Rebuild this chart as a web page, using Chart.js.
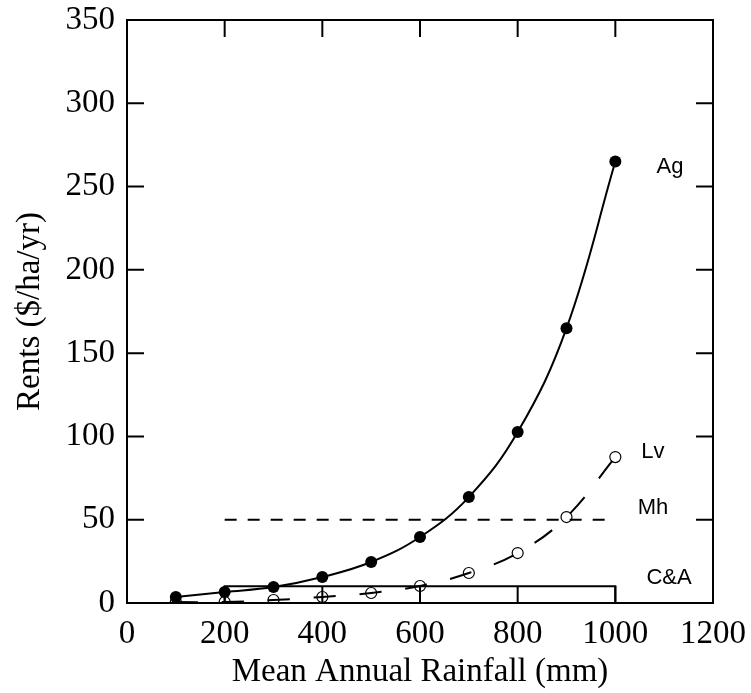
<!DOCTYPE html>
<html>
<head>
<meta charset="utf-8">
<script src="https://cdn.jsdelivr.net/npm/chart.js@4.4.1/dist/chart.umd.min.js"></script>
<style>
  html, body { margin: 0; padding: 0; background: #fff; }
  #wrap { width: 751px; height: 693px; }
</style>
</head>
<body>
<div id="wrap"><canvas id="rentChart" width="751" height="693"></canvas></div>
<script>
// rainfall (mm) where the land uses were evaluated
var rainfall = [100, 200, 300, 400, 500, 600, 700, 800, 900, 1000];
// rents ($/ha/yr)
var agRent = [3.6, 6.6, 9.6, 15.6, 24.6, 39.6, 63.6, 102.6, 165, 265];
var lvRent = [0.6, 0.6, 1.8, 3.6, 6, 10.2, 18, 30, 51.6, 87.6];
// flat rents over a rainfall range
var mhRange = [200, 1000];
var mhRent = 50;
var caRange = [200, 1000];
var caRent = 10;

var xTicks = [0, 200, 400, 600, 800, 1000, 1200];
var yTicks = [0, 50, 100, 150, 200, 250, 300, 350];

// curve names written next to the lines (x, y in data units)
var curveLabels = [
  { text: 'Ag', x: 1112, y: 262 },
  { text: 'Lv', x: 1077, y: 90.6 },
  { text: 'Mh', x: 1077, y: 57 },
  { text: 'C&A', x: 1110, y: 15 }
];

function pts(xs, ys) {
  return xs.map(function (x, i) { return { x: x, y: ys[i] }; });
}

// closed frame + inward ticks on all four sides + the curve names
var framePlugin = {
  id: 'frame',
  afterDraw: function (chart) {
    var ctx = chart.ctx;
    var a = chart.chartArea;
    var xs = chart.scales.x, ys = chart.scales.y;
    var tl = 17;
    ctx.save();
    ctx.strokeStyle = '#000';
    ctx.lineWidth = 2;
    ctx.strokeRect(a.left, a.top, a.right - a.left, a.bottom - a.top);
    ctx.beginPath();
    xTicks.forEach(function (v) {
      var px = xs.getPixelForValue(v);
      ctx.moveTo(px, a.bottom); ctx.lineTo(px, a.bottom - tl);
      ctx.moveTo(px, a.top); ctx.lineTo(px, a.top + tl);
    });
    yTicks.forEach(function (v) {
      var py = ys.getPixelForValue(v);
      ctx.moveTo(a.left, py); ctx.lineTo(a.left + tl, py);
      ctx.moveTo(a.right, py); ctx.lineTo(a.right - tl, py);
    });
    ctx.stroke();

    ctx.fillStyle = '#000';
    ctx.font = '22px "Liberation Sans", Arial, sans-serif';
    ctx.textAlign = 'center';
    ctx.textBaseline = 'middle';
    curveLabels.forEach(function (l) {
      ctx.fillText(l.text, xs.getPixelForValue(l.x), ys.getPixelForValue(l.y));
    });
    ctx.restore();
  }
};

var serif = { family: '"Liberation Serif", "Times New Roman", serif', size: 33 };

new Chart(document.getElementById('rentChart'), {
  type: 'scatter',
  data: {
    datasets: [
      {
        label: 'Ag',
        data: pts(rainfall, agRent),
        showLine: true,
        tension: 0.4,
        borderColor: '#000',
        borderWidth: 2,
        backgroundColor: '#000',
        pointRadius: 6,
        pointBorderWidth: 0
      },
      {
        label: 'Lv',
        data: pts(rainfall, lvRent),
        showLine: true,
        tension: 0.4,
        borderColor: '#000',
        borderWidth: 2,
        borderDash: [22, 24],
        backgroundColor: 'rgba(0,0,0,0)',
        pointBorderColor: '#000',
        pointBackgroundColor: 'rgba(0,0,0,0)',
        pointRadius: 5.5,
        pointBorderWidth: 1.2
      },
      {
        label: 'Mh',
        data: pts(mhRange, [mhRent, mhRent]),
        showLine: true,
        borderColor: '#000',
        borderWidth: 2,
        borderDash: [12, 11],
        pointRadius: 0
      },
      {
        label: 'C&A',
        data: [
          { x: caRange[0], y: 0 },
          { x: caRange[0], y: caRent },
          { x: caRange[1], y: caRent },
          { x: caRange[1], y: 0 }
        ],
        showLine: true,
        borderColor: '#000',
        borderWidth: 2,
        pointRadius: 0
      }
    ]
  },
  options: {
    responsive: false,
    animation: false,
    layout: { padding: { top: 20, right: 38, left: 0, bottom: 0 } },
    plugins: {
      legend: { display: false },
      tooltip: { enabled: false }
    },
    scales: {
      x: {
        type: 'linear',
        min: 0,
        max: 1200,
        afterBuildTicks: function (s) { s.ticks = xTicks.map(function (v) { return { value: v }; }); },
        afterFit: function (s) { s.height = 90; s.paddingLeft = 0; s.paddingRight = 0; },
        grid: { display: false, drawTicks: false },
        border: { display: false },
        ticks: { color: '#000', font: serif, padding: 12, maxRotation: 0, callback: function (v) { return String(v); } },
        title: { display: true, text: 'Mean Annual Rainfall (mm)', color: '#000', font: serif, padding: { top: 0, bottom: 1 } }
      },
      y: {
        type: 'linear',
        min: 0,
        max: 350,
        afterBuildTicks: function (s) { s.ticks = yTicks.map(function (v) { return { value: v }; }); },
        afterFit: function (s) { s.width = 127; s.paddingTop = 0; s.paddingBottom = 0; },
        grid: { display: false, drawTicks: false },
        border: { display: false },
        ticks: { color: '#000', font: serif, padding: 12, callback: function (v) { return String(v); } },
        title: { display: true, text: 'Rents ($/ha/yr)', color: '#000', font: serif, padding: { top: 11, bottom: 0 } }
      }
    }
  },
  plugins: [framePlugin]
});
</script>
</body>
</html>
